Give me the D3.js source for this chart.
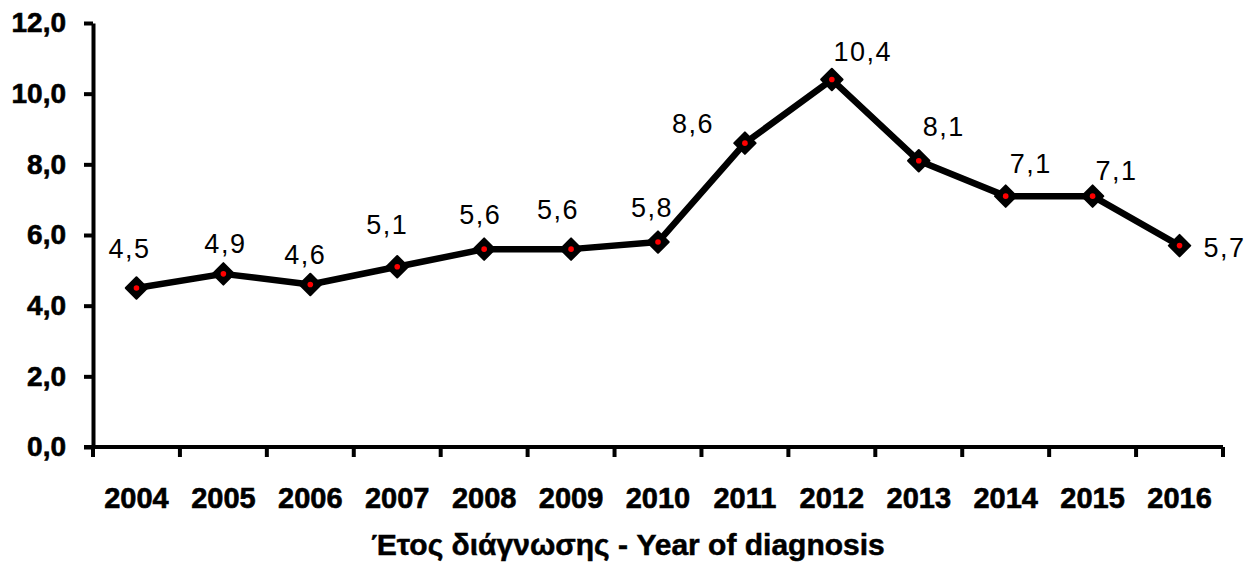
<!DOCTYPE html>
<html>
<head>
<meta charset="utf-8">
<script src="https://cdn.jsdelivr.net/npm/d3@7"></script>
<style>
  body { margin: 0; background: #fff; }
  text { font-family: "Liberation Sans", Arial, sans-serif; }
</style>
</head>
<body>
<div id="chart"></div>
<script>
/**
 * DATA
 * */
const years = ["2004", "2005", "2006", "2007", "2008", "2009", "2010",
  "2011", "2012", "2013", "2014", "2015", "2016"];
const rates = [4.5, 4.9, 4.6, 5.1, 5.6, 5.6, 5.8, 8.6, 10.4, 8.1, 7.1, 7.1, 5.7];
const yTicks = [0, 2, 4, 6, 8, 10, 12];
const xTitle = "Έτος διάγνωσης - Year of diagnosis";

// label nudges (px, relative to the point) – excel put them a bit everywhere
const labelNudge = [[-7, -30], [2, -21], [-5, -20], [-10, -33], [-4, -25], [-13, -30],
  [-6, -25], [-52, -10], [31, -19], [25, -25], [25, -23], [24, -16], [45, 11]];

/**
 * CONSTANTS
 * */
const width = 1259,
  height = 567,
  margin = { top: 23, bottom: 120, left: 93, right: 36 };

const fmt = d => d3.format(".1f")(d).replace(".", ",");

const svg = d3.select("#chart")
  .append("svg")
  .attr("width", width)
  .attr("height", height);

const x = d3.scaleBand()
  .domain(years)
  .range([margin.left, width - margin.right])
  .padding(0);

const y = d3.scaleLinear()
  .domain([0, 12])
  .range([height - margin.bottom, margin.top]);

const cx = d => x(d) + x.bandwidth() / 2;

// y axis
const yAxis = svg.append("g")
  .attr("transform", `translate(${margin.left},0)`)
  .call(d3.axisLeft(y).tickValues(yTicks).tickFormat(fmt).tickSize(9).tickSizeOuter(0).tickPadding(18));
yAxis.select(".domain").attr("stroke", "#000").attr("stroke-width", 4);
yAxis.selectAll(".tick line").attr("stroke", "#000").attr("stroke-width", 4);
yAxis.selectAll(".tick text")
  .attr("fill", "#000")
  .attr("stroke", "#000")
  .attr("stroke-width", 0.6)
  .style("font-size", "28px")
  .style("font-weight", "bold")
  .style("font-family", "Liberation Sans, Arial, sans-serif");

// x axis: labels centred in bands, ticks on the band edges
const x0 = y(0);
const xAxis = svg.append("g").attr("transform", `translate(0,${x0})`);
xAxis.append("line")
  .attr("x1", x.range()[0] - 9)
  .attr("x2", x.range()[1])
  .attr("stroke", "#000")
  .attr("stroke-width", 4);
const edges = years.map(d => x(d)).concat([x.range()[1]]);
xAxis.selectAll("line.tk")
  .data(edges)
  .join("line")
  .attr("class", "tk")
  .attr("x1", d => d)
  .attr("x2", d => d)
  .attr("y1", 0)
  .attr("y2", 10)
  .attr("stroke", "#000")
  .attr("stroke-width", 4);
xAxis.selectAll("text")
  .data(years)
  .join("text")
  .attr("x", cx)
  .attr("y", 61)
  .attr("text-anchor", "middle")
  .attr("stroke", "#000")
  .attr("stroke-width", 0.6)
  .style("font-size", "29px")
  .style("font-weight", "bold")
  .text(d => d);

svg.append("text")
  .attr("x", (x.range()[0] + x.range()[1]) / 2 - 30)
  .attr("y", 555)
  .attr("text-anchor", "middle")
  .attr("stroke", "#000")
  .attr("stroke-width", 0.5)
  .style("font-size", "30px")
  .style("font-weight", "bold")
  .text(xTitle);

// line
const line = d3.line()
  .x((d, i) => cx(years[i]))
  .y(d => y(d));

svg.append("path")
  .datum(rates)
  .attr("d", line)
  .attr("fill", "none")
  .attr("stroke", "#000")
  .attr("stroke-width", 6.5)
  .attr("stroke-linejoin", "round");

// markers
const pts = svg.selectAll("g.pt")
  .data(rates)
  .join("g")
  .attr("class", "pt")
  .attr("transform", (d, i) => `translate(${cx(years[i])},${y(d)})`);

pts.append("path")
  .attr("d", d3.symbol(d3.symbolSquare, 230)())
  .attr("transform", "rotate(45)")
  .attr("fill", "#000")
  .attr("stroke", "#000")
  .attr("stroke-width", 2)
  .attr("stroke-linejoin", "round");

pts.append("circle")
  .attr("r", 2.8)
  .attr("fill", "#f00");

// value labels
svg.selectAll("text.val")
  .data(rates)
  .join("text")
  .attr("class", "val")
  .attr("x", (d, i) => cx(years[i]) + labelNudge[i][0])
  .attr("y", (d, i) => y(d) + labelNudge[i][1])
  .attr("text-anchor", "middle")
  .style("font-size", "27px")
  .style("letter-spacing", "1.5px")
  .text(fmt);
</script>
</body>
</html>
